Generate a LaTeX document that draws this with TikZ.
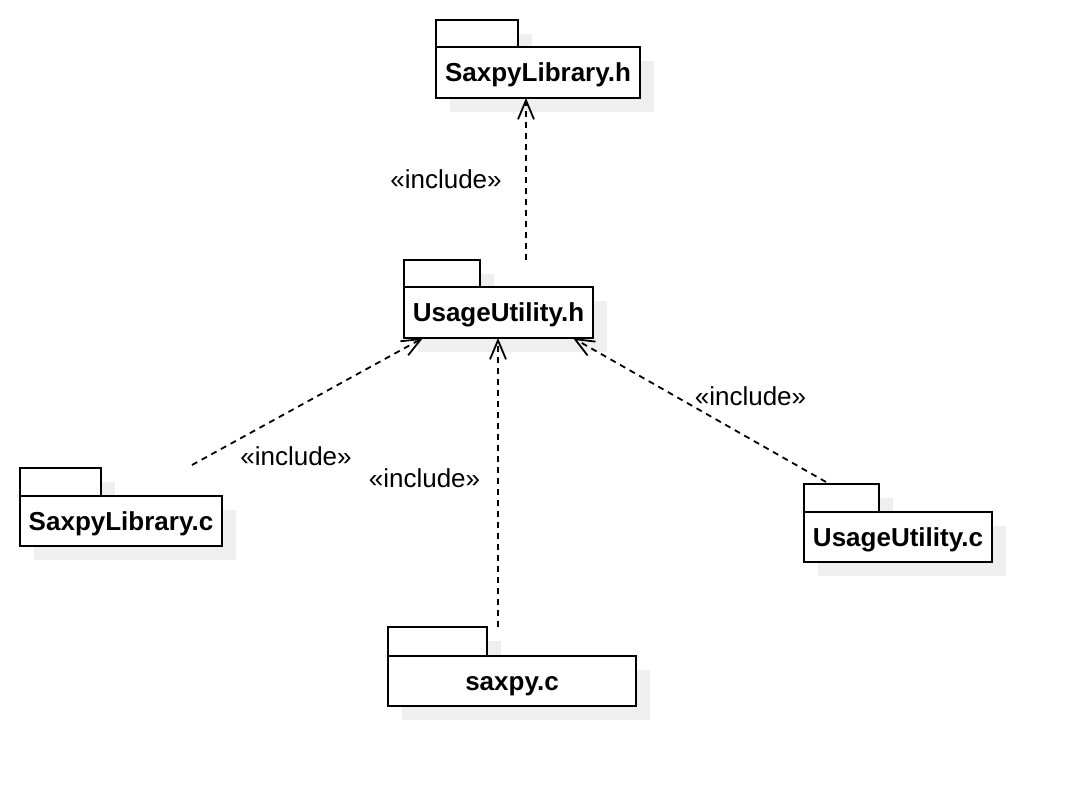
\documentclass[tikz,border=0pt]{standalone}
\usepackage{fontspec}
\setmainfont{Liberation Sans}
\usetikzlibrary{arrows.meta}
\definecolor{shadowc}{RGB}{239,239,239}
\tikzset{
  pkgline/.style={draw=black,line width=1.8pt},
  pkgbody/.style={pkgline,fill=white,inner sep=0pt,outer sep=0pt,
     text height=18.6pt,text depth=0pt,
     font=\fontsize{26}{31}\selectfont\bfseries},
  pkgarea/.style={inner sep=0pt,outer sep=0pt},
  dep/.style={draw=black,line width=1.8pt,dash pattern=on 6pt off 5pt,
     -{Straight Barb[length=19pt,width=16pt,line width=1.8pt]}},
  inclabel/.style={inner sep=0pt,font=\fontsize{26}{31}\selectfont}
}
% name, left, tabtop, tabright, bodytop, right, bottom, text
\newcommand\pkgdraw[8]{%
  \fill[shadowc] ({#2+14},{#3+14}) rectangle ({#4+14},{#5+14});
  \fill[shadowc] ({#2+14},{#5+14}) rectangle ({#6+14},{#7+14});
  \draw[pkgline,fill=white] (#2,#3) rectangle (#4,#5);
  \node[pkgbody,minimum width={(#6-#2)*1pt},minimum height={(#7-#5)*1pt}]
     (#1) at ({(#2+#6)/2},{(#5+#7)/2}) {#8};
  \node[pkgarea,minimum width={(#6-#2)*1pt},minimum height={(#7-#3)*1pt}]
     (#1P) at ({(#2+#6)/2},{(#3+#7)/2}) {};
}
\begin{document}
\begin{tikzpicture}[x=1pt,y=-1pt]
\useasboundingbox[fill=white] (0,0) rectangle (1072,786);

\pkgdraw{slh}{436}{20}{518}{47}{640}{98}{SaxpyLibrary.h}
\pkgdraw{uh}{404}{260}{480}{287}{593}{338}{UsageUtility.h}
\pkgdraw{slc}{20}{468}{101}{496}{222}{546}{SaxpyLibrary.c}
\pkgdraw{sc}{388}{627}{487}{656}{636}{706}{saxpy.c}
\pkgdraw{uc}{804}{484}{879}{512}{992}{562}{UsageUtility.c}

\draw[dep] ([xshift=122pt]uhP.north west) -- ([xshift=90pt]slh.south west);
\draw[dep] ([xshift=172pt,yshift=3pt]slcP.north west) -- ([xshift=19pt]uh.south west);
\draw[dep] ([xshift=110pt]scP.north west) -- ([xshift=94pt]uh.south west);
\draw[dep] ([xshift=22pt,yshift=2pt]ucP.north west) -- ([xshift=169pt]uh.south west);

\node[inclabel] (l1) at (446,179) {«include»};
\node[inclabel] (l2) at (296,456) {«include»};
\node[inclabel] (l3) at (424.5,478) {«include»};
\node[inclabel] (l4) at (750.5,396) {«include»};
\end{tikzpicture}
\end{document}
